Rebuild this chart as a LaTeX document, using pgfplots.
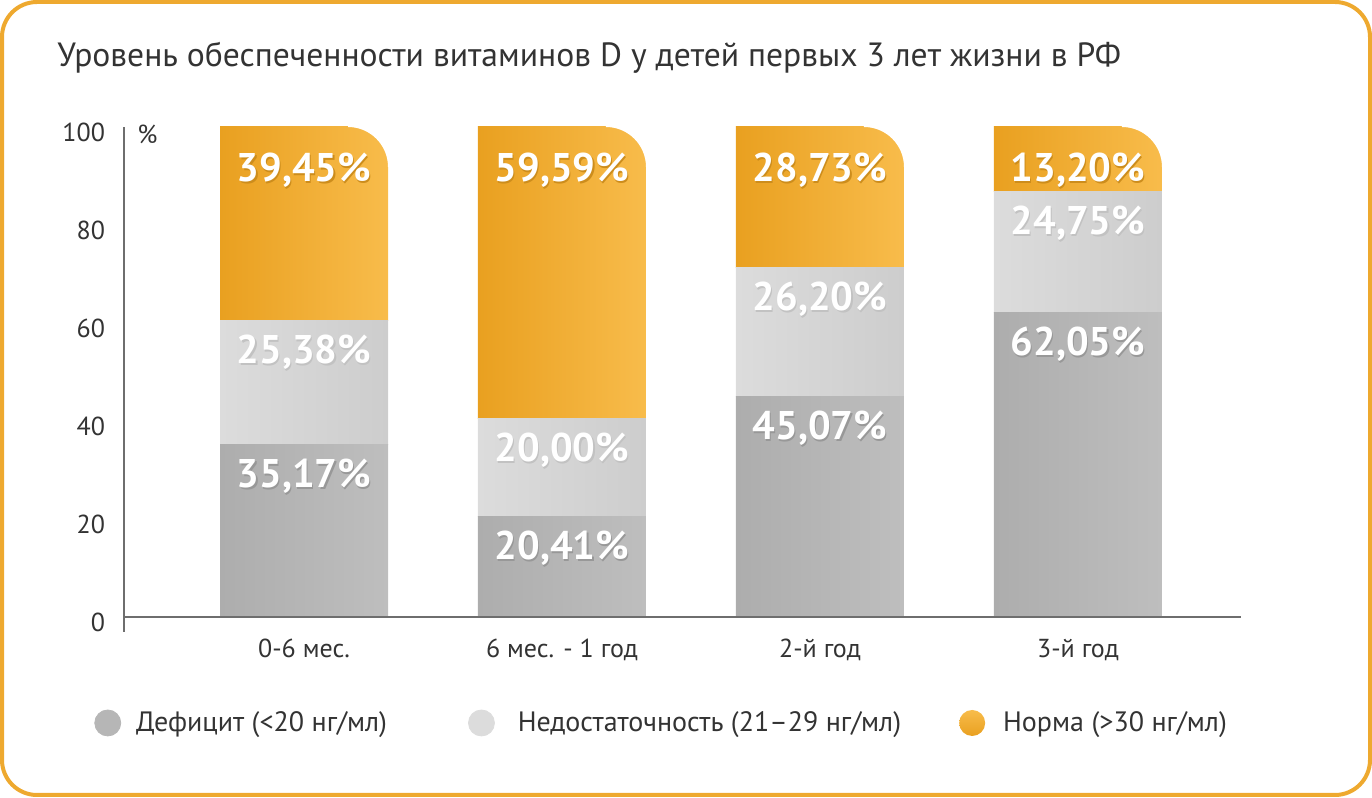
\documentclass[border=0pt]{standalone}
\usepackage{pgfplots}
\pgfplotsset{compat=1.18}
\usepackage{pgfplotstable}
\usepackage{fontspec}
\setmainfont{PT Sans}

\definecolor{txt}{HTML}{333333}
\definecolor{axgray}{HTML}{6E6E6E}
\definecolor{framec}{HTML}{EEA92F}
\definecolor{dkL}{HTML}{ADADAD}
\definecolor{dkR}{HTML}{BEBEBE}
\definecolor{ltL}{HTML}{DCDCDC}
\definecolor{ltR}{HTML}{CDCDCD}
\definecolor{orL}{HTML}{E9A020}
\definecolor{orR}{HTML}{F8BC4B}

\pgfplotstableread{
x def low norm
0 35.17 25.38 39.45
1 20.41 20.00 59.59
2 45.07 26.20 28.73
3 62.05 24.75 13.20
}\vitd

% white piece that rounds off the top right corner of a bar (basic layer, so no shading leaks in)
\newcommand\cornermask{\begin{pgfpicture}%
  \pgfsetfillcolor{white}%
  \pgfpathmoveto{\pgfpoint{0pt}{21pt}}%
  \pgfpathlineto{\pgfpoint{21pt}{21pt}}%
  \pgfpathlineto{\pgfpoint{21pt}{0pt}}%
  \pgfpathlineto{\pgfpoint{20pt}{0pt}}%
  \pgfpatharc{0}{90}{20pt}%
  \pgfpathclose
  \pgfusepath{fill}%
\end{pgfpicture}}
\newcommand\labtext{\pgfmathprintnumber[fixed,fixed zerofill,precision=2,use comma]{\pgfplotspointmeta}\%}
\newcommand\shlab[1]{\rlap{\kern0.6pt\raisebox{-1pt}{\color{#1}\labtext}}\labtext}

\pgfplotsset{
  /pgf/number format/assume math mode=true,
  frame/.style={at={(62pt,90.5pt)}, anchor=south west, scale only axis,
    width=558.5pt, height=245pt, xmin=-0.6977, xmax=3.632, ymin=0, ymax=100, clip=false},
  barax/.style={frame, hide axis, ybar stacked, bar width=84pt},
  % #1 #2 gradient colours, #3 column, #4 shadow colour, #5 gap from segment top to label
  seg/.style n args={5}{draw=none, left color=#1, right color=#2,
    point meta=explicit, visualization depends on={\thisrow{#3} \as \segh},
    nodes near coords={\shlab{#4}},
    every node near coord/.append style={font=\bfseries\fontsize{20}{22}\selectfont,
      text=white, anchor=north, inner sep=0pt, yshift={\segh*1.225pt-#5}}},
}

\begin{document}
\begin{tikzpicture}[font=\fontsize{13}{15}\selectfont]
\useasboundingbox (0,0) rectangle (686pt,399pt);
\draw[framec, line width=2pt, rounded corners=17.5pt] (1pt,1.5pt) rectangle (685pt,398pt);
\node[anchor=base west, font=\fontsize{16.8}{19}\selectfont, text=txt, inner sep=0pt]
  at (28.5pt,365.5pt) {Уровень обеспеченности витаминов D у детей первых 3 лет жизни в РФ};

% one axis per category, so that every bar gets its own left-to-right gradient
\foreach \c in {0,1,2,3}{
\begin{axis}[barax, restrict x to domain=\c:\c]
\addplot[seg={dkL}{dkR}{def}{dkL!88!black}{7pt}] table[x=x, y=def, meta=def] {\vitd};
\addplot[seg={ltL}{ltR}{low}{ltL!88!black}{7pt}] table[x=x, y=low, meta=low] {\vitd};
\addplot[seg={orL}{orR}{norm}{orL!88!black}{12.8pt},
  every node near coord/.append style={label={[anchor=north east, inner sep=0pt,
    outer sep=0pt, xshift=43pt, yshift=13.8pt]north:\cornermask}}]
  table[x=x, y=norm, meta=norm] {\vitd};
\end{axis}
}

% axis lines, ticks and legend on top
\begin{axis}[frame,
  axis x line*=bottom, axis y line*=left,
  axis line style={draw=axgray, line width=1pt, -},
  y axis line style={shorten <=-7.5pt},
  xtick={0,1,2,3},
  xticklabels={0-6 мес., 6 мес. - 1 год, 2-й год, 3-й год},
  ytick={0,20,40,60,80,100},
  major tick length=0pt,
  tick label style={font=\fontsize{13}{15}\selectfont, text=txt},
  yticklabel style={xshift=-6pt, yshift=-2.5pt},
  xticklabel style={yshift=-7.5pt},
  legend style={at={(-0.0269,-0.2163)}, anchor=west, draw=none, fill=none, inner sep=0pt,
    legend columns=3, font=\fontsize{14}{16}\selectfont, text=txt,
    /tikz/column 1/.style={column sep=5.5pt},
    /tikz/column 2/.style={column sep=38.5pt},
    /tikz/column 3/.style={column sep=9.5pt},
    /tikz/column 4/.style={column sep=27pt},
    /tikz/column 5/.style={column sep=7pt}},
  legend cell align=left,
]
\addlegendimage{legend image code/.code={\fill[dkL!50!dkR] (6.5pt,0pt) circle (6.5pt);}}
\addlegendimage{legend image code/.code={\fill[ltL] (6.5pt,0pt) circle (6.5pt);}}
\addlegendimage{legend image code/.code={\path[draw=none, top color=orR, bottom color=orL] (6.5pt,0pt) circle (6.5pt);}}
\legend{Дефицит (<20 нг/мл), Недостаточность (21–29 нг/мл), Норма (>30 нг/мл)}
\node[anchor=north west, inner sep=0pt, xshift=6.5pt, yshift=1pt, text=txt,
  font=\fontsize{13}{15}\selectfont] at (rel axis cs:0,1) {\%};
\end{axis}
\end{tikzpicture}
\end{document}
